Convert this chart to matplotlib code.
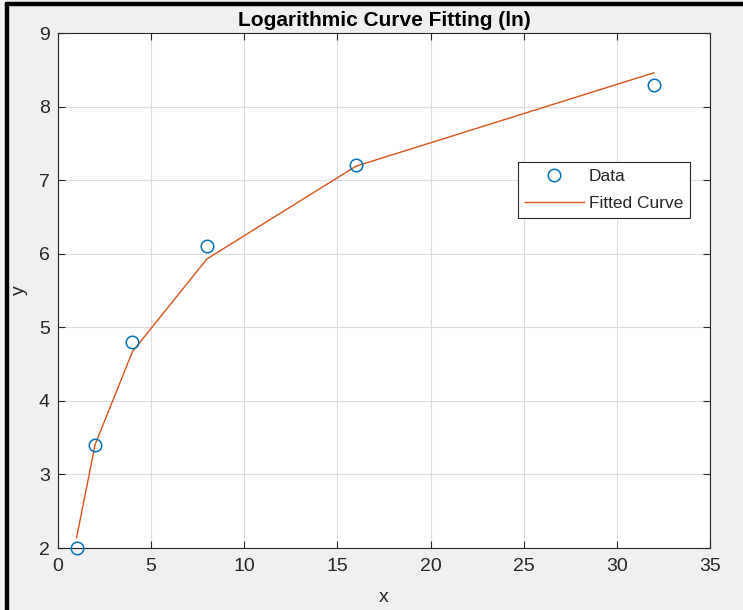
import matplotlib.pyplot as plt
from matplotlib.patches import Rectangle

plt.rcParams['font.family'] = ['Liberation Sans', 'DejaVu Sans']

# measured points and the ln fit evaluated at the same x
x = [1, 2, 4, 8, 16, 32]
y = [2.0, 3.4, 4.8, 6.1, 7.2, 8.3]
y_fit = [2.14, 3.41, 4.67, 5.93, 7.19, 8.46]

fig = plt.figure(figsize=(7.43, 6.10), dpi=100, facecolor='#f0f0f0')
ax = fig.add_axes([0.078, 0.1016, 0.8775, 0.8443])
ax.set_facecolor('white')

ax.plot(x, y, 'o', mfc='none', mec='#0072BD', ms=9, mew=1.1, label='Data',
        clip_on=False, zorder=5)
ax.plot(x, y_fit, '-', color='#D95319', lw=1.0, label='Fitted Curve')

ax.set_xlim(0, 35)
ax.set_ylim(2, 9)
ax.set_xticks(range(0, 36, 5))
ax.set_yticks(range(2, 10))
ax.grid(True, color='#dcdcdc', lw=0.8)
ax.set_axisbelow(True)
ax.tick_params(direction='in', length=5, labelsize=14, colors='#262626',
               top=True, right=True, labeltop=False, labelright=False)
ax.tick_params(axis='x', pad=7)
ax.tick_params(axis='y', pad=6)
for s in ax.spines.values():
    s.set_color('#262626')
    s.set_linewidth(0.8)

ax.set_title('Logarithmic Curve Fitting (ln)', fontsize=15, fontweight='bold', pad=5)
ax.set_xlabel('x', fontsize=14, color='#262626', labelpad=10)
ax.set_ylabel('y', fontsize=14, color='#262626', labelpad=8)

leg = ax.legend(loc='upper right', bbox_to_anchor=(0.929, 0.734),
                bbox_transform=fig.transFigure, borderaxespad=0,
                fancybox=False, framealpha=1, edgecolor='#262626',
                fontsize=12.5, handlelength=3.4, borderpad=0.4,
                labelspacing=0.65, handletextpad=0.3)
leg.get_frame().set_linewidth(0.8)
for t in leg.get_texts():
    t.set_color('#262626')

# frame lines along top and left edges
fig.patches.append(Rectangle((0.007, 0), 0.004, 0.995, transform=fig.transFigure,
                             color='black', zorder=10))
fig.patches.append(Rectangle((0.007, 0.991), 0.993, 0.005, transform=fig.transFigure,
                             color='black', zorder=10))

fig.savefig('out.png', dpi=100, facecolor=fig.get_facecolor())
